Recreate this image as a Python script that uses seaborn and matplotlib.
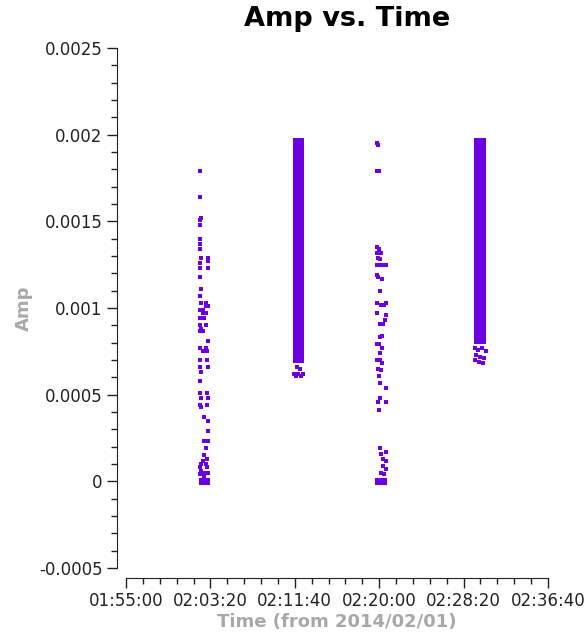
import numpy as np
import pandas as pd
import matplotlib
matplotlib.use('Agg')
import matplotlib.pyplot as plt
from matplotlib.ticker import MultipleLocator, FixedLocator, FuncFormatter
import seaborn as sns

# Amplitude vs time, seconds from 2014/02/01 00:00:00
purple = '#6c00e0'

# dense scans (drawn as solid bands): start/end time and amp range
band_start = [7889, 8962, 8962]
band_end = [7954, 9033, 9033]
band_low = [0.00068, 0.00091, 0.00079]
band_high = [0.00198, 0.00198, 0.00091]

# flagged-to-zero blocks at the bottom of the sparse scans
zero_start = [7332, 8375]
zero_end = [7398, 8446]
zero_low = [-0.00002, -0.00002]
zero_high = [0.00002, 0.00002]

# scan 1 (sparse)
scan1_time = [7338, 7338, 7338, 7345, 7338, 7338, 7338, 7338, 7345, 7388,
              7388, 7338, 7338, 7388, 7338, 7345, 7338, 7345, 7372, 7372,
              7388, 7338, 7355, 7355, 7372, 7338, 7362, 7338, 7372, 7338,
              7355, 7345, 7388, 7338, 7372, 7355, 7380, 7338, 7380, 7338,
              7388, 7345, 7338, 7338, 7380, 7345, 7388, 7338, 7380, 7345,
              7362, 7388, 7388, 7362, 7388, 7372, 7362, 7380, 7345, 7372,
              7338, 7380, 7362, 7388, 7345, 7355, 7362, 7338]
scan1_amp = [0.00179, 0.00164, 0.00151, 0.00152, 0.00148, 0.00140, 0.00137, 0.00134, 0.00129, 0.00129,
             0.00127, 0.00126, 0.00123, 0.00123, 0.00118, 0.00111, 0.00107, 0.00103, 0.00103, 0.00101,
             0.00101, 0.00099, 0.00099, 0.00097, 0.00097, 0.00094, 0.00094, 0.00090, 0.00090, 0.00087,
             0.00087, 0.00088, 0.00081, 0.00077, 0.00077, 0.00075, 0.00075, 0.00070, 0.00070, 0.00066,
             0.00066, 0.00063, 0.00058, 0.00051, 0.00051, 0.00048, 0.00048, 0.00044, 0.00044, 0.00043,
             0.00037, 0.00035, 0.00029, 0.00023, 0.00023, 0.00019, 0.00015, 0.00013, 0.00010, 0.00010,
             0.00008, 0.00008, 0.00005, 0.00005, 0.00006, 0.00012, 0.00003, 0.00004]

# scan 2 (dense) lower stragglers
scan2_time = [7895, 7905, 7920, 7935, 7948, 7915, 7930]
scan2_amp = [0.00062, 0.00061, 0.00062, 0.00061, 0.00062, 0.00066, 0.00065]

# scan 3 (sparse)
scan3_time = [8387, 8392, 8387, 8400, 8387, 8400, 8387, 8410, 8392, 8405,
              8387, 8400, 8417, 8430, 8440, 8387, 8395, 8417, 8405, 8387,
              8410, 8430, 8440, 8387, 8440, 8432, 8405, 8425, 8405, 8417,
              8387, 8400, 8417, 8405, 8387, 8405, 8417, 8395, 8412, 8400,
              8405, 8440, 8405, 8395, 8440, 8400, 8405, 8410, 8440, 8425,
              8440, 8420, 8440, 8410, 8430]
scan3_amp = [0.00195, 0.00194, 0.00179, 0.00179, 0.00135, 0.00134, 0.00132, 0.00132, 0.00129, 0.00128,
             0.00125, 0.00125, 0.00125, 0.00125, 0.00125, 0.00119, 0.00118, 0.00117, 0.00110, 0.00103,
             0.00102, 0.00102, 0.00103, 0.00097, 0.00096, 0.00093, 0.00091, 0.00091, 0.00083, 0.00084,
             0.00079, 0.00079, 0.00077, 0.00074, 0.00070, 0.00070, 0.00068, 0.00065, 0.00064, 0.00061,
             0.00057, 0.00054, 0.00048, 0.00046, 0.00046, 0.00041, 0.00019, 0.00016, 0.00017, 0.00013,
             0.00012, 0.00009, 0.00007, 0.00005, 0.00004]

# scan 4 (dense) lower stragglers
scan4_time = [8965, 8985, 9010, 9030, 8975, 9000, 9020, 8990, 8970, 9015]
scan4_amp = [0.00077, 0.00076, 0.00077, 0.00075, 0.00073, 0.00072, 0.00071, 0.00069, 0.00070, 0.00068]

# axis ticks (seconds)
x_ticks = [6900, 7400, 7900, 8400, 8900, 9400]

points = pd.DataFrame({
    'time': scan1_time + scan2_time + scan3_time + scan4_time,
    'amp': scan1_amp + scan2_amp + scan3_amp + scan4_amp,
})

sns.set_style('ticks')
plt.rcParams['font.family'] = ['DejaVu Sans']

fig = plt.figure(figsize=(5.87, 6.36), dpi=100)
ax = fig.add_axes([126 / 587, 1 - 568 / 636, 422 / 587, 520 / 636])

# solid bands for the densely sampled parts
ax.bar(band_start, np.array(band_high) - np.array(band_low),
       width=np.array(band_end) - np.array(band_start), bottom=band_low,
       align='edge', color=purple, linewidth=0)
ax.bar(zero_start, np.array(zero_high) - np.array(zero_low),
       width=np.array(zero_end) - np.array(zero_start), bottom=zero_low,
       align='edge', color=purple, linewidth=0)

sns.scatterplot(data=points, x='time', y='amp', ax=ax, color=purple,
                marker='s', s=5, linewidth=0)

ax.set_xlim(6900, 9400)
ax.set_ylim(-0.0005, 0.0025)

ax.xaxis.set_major_locator(FixedLocator(x_ticks))
ax.xaxis.set_minor_locator(MultipleLocator(100))
ax.yaxis.set_major_locator(MultipleLocator(0.0005))
ax.yaxis.set_minor_locator(MultipleLocator(0.0001))


def hms(v, pos):
    v = int(round(v))
    return '%02d:%02d:%02d' % (v // 3600, (v % 3600) // 60, v % 60)


ax.xaxis.set_major_formatter(FuncFormatter(hms))
ax.yaxis.set_major_formatter(FuncFormatter(lambda v, pos: '%g' % round(v, 6)))

for side in ['top', 'right']:
    ax.spines[side].set_visible(False)
ax.spines['left'].set_position(('outward', 6.5))
ax.spines['bottom'].set_position(('outward', 7))
ax.spines['left'].set_color('#222222')
ax.spines['bottom'].set_color('#222222')

ax.tick_params(which='major', length=7, width=1, color='#222222',
               labelsize=12, labelcolor='#222222', direction='out')
ax.tick_params(which='minor', length=4, width=1, color='#222222', direction='out')

ax.set_title('Amp vs. Time', fontsize=19.5, fontweight='bold', color='black',
             pad=16, x=0.525)
ax.set_xlabel('Time (from 2014/02/01)', fontsize=13, fontweight='bold', color='#a8a8a8', labelpad=2)
ax.set_ylabel('Amp', fontsize=13, fontweight='bold', color='#a8a8a8', labelpad=4)

fig.savefig('out.png', dpi=100)
